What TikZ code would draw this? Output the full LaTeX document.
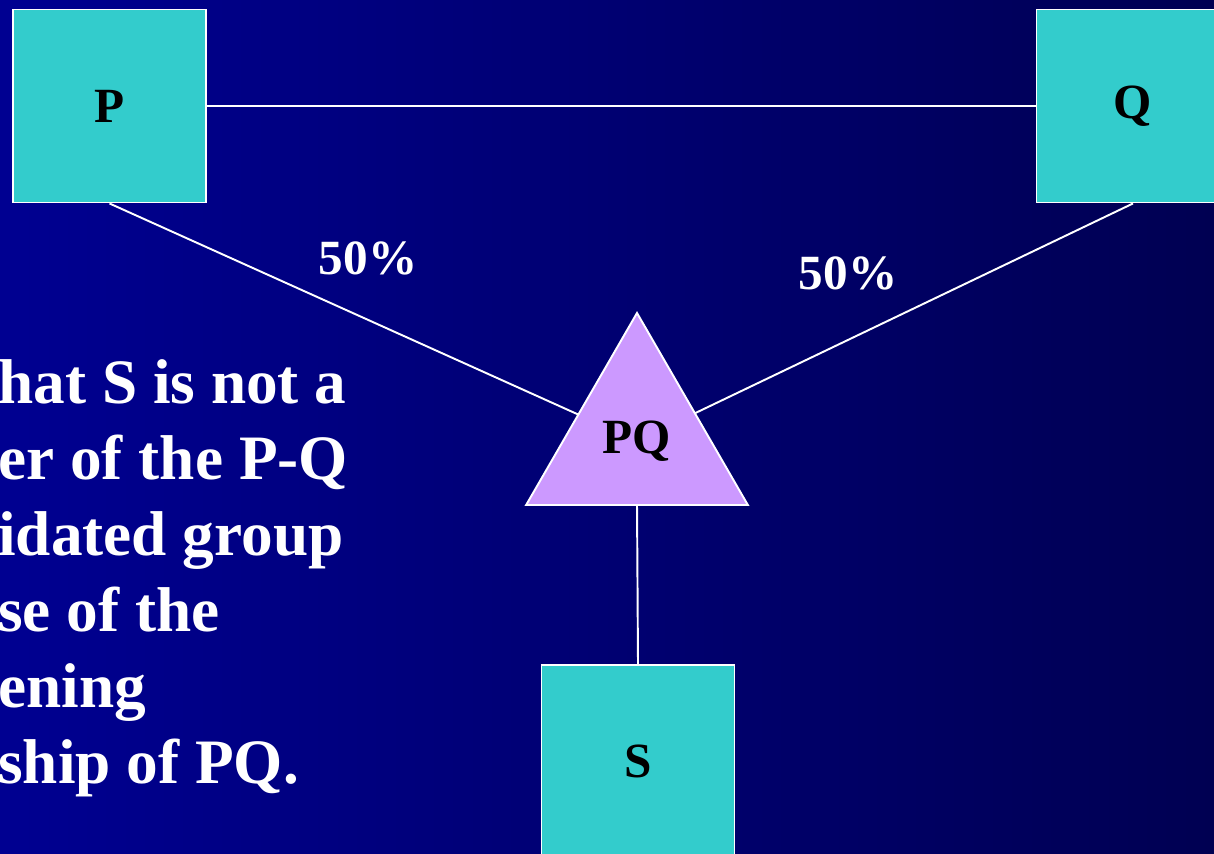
\documentclass[tikz,border=0pt]{standalone}
\usepackage{fontspec}
\setmainfont{Liberation Serif}
\usetikzlibrary{shapes.geometric,positioning,calc}
\definecolor{bgleft}{RGB}{0,0,145}
\definecolor{bgright}{RGB}{0,0,82}
\definecolor{boxcyan}{RGB}{51,204,204}
\definecolor{trililac}{RGB}{204,153,255}

\begin{document}
\begin{tikzpicture}[box/.style={draw=white,line width=1.1pt,fill=boxcyan,minimum size=3.86cm,inner sep=0pt,font=\fontsize{28}{32}\selectfont\bfseries},
tri/.style={regular polygon,regular polygon sides=3,draw=white,line width=1.1pt,fill=trililac,minimum size=5.12cm,inner sep=0pt,outer sep=0pt,font=\fontsize{28}{32}\selectfont\bfseries},
link/.style={draw=white,line width=1.1pt},
pct/.style={text=white,font=\fontsize{28}{32}\selectfont\bfseries}]
\useasboundingbox (0,0) rectangle (24.28,17.06);
\clip (0,0) rectangle (24.28,17.06);
\shade[left color=bgleft,right color=bgright] (0,0) rectangle (24.28,17.06);
% entities
\node[box] (p) at (2.19,14.94) {P};
\node[box] (q) at (22.66,14.94) {Q};
\node[box] (s) at (12.76,1.83) {S};
\node[tri] (pq) at (12.74,8.24) {PQ};
% links
\draw[link] (p.east)--(q.west);
\draw[link] (p.south)--(pq);\draw[link] (q.south)--(pq);
\draw[link] (pq.south)--(s.north);
\node[pct] (pshare) at (7.36,11.9) {50\%};
\node[pct] (qshare) at (16.96,11.6) {50\%};
% note, cut at the left edge
\node[anchor=base west,inner sep=0pt,align=left,text=white,font=\fontsize{36}{43.2}\selectfont\bfseries] (note) at (-0.04,1.4) {hat S is not a\\er of the P-Q\\idated group\\se of the\\ening\\ship of PQ.};
\end{tikzpicture}
\end{document}
